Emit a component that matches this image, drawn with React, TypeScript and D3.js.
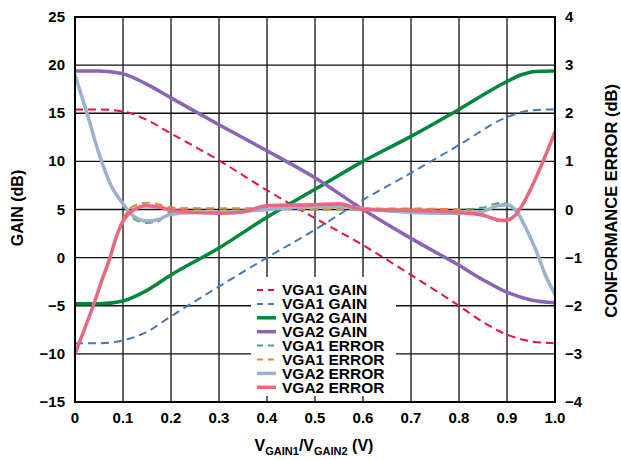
import React from "react";
import * as d3 from "d3";

type Pt = [number, number];

// VGA1 GAIN (red dashed) — left axis, dB
const vga1GainRed: Pt[] = [
  [0, 15.4], [0.05, 15.4], [0.1, 15.2], [0.15, 14.3], [0.2, 12.9], [0.3, 10.1],
  [0.4, 7.0], [0.5, 4.1], [0.6, 1.3], [0.7, -1.8], [0.8, -5.0], [0.85, -6.7],
  [0.9, -8.0], [0.95, -8.7], [1.0, -8.9],
];
// VGA1 GAIN (blue dashed) — left axis
const vga1GainBlue: Pt[] = [
  [0, -8.9], [0.05, -8.9], [0.1, -8.6], [0.15, -7.7], [0.2, -6.1], [0.3, -3.0],
  [0.4, 0.0], [0.5, 2.9], [0.6, 6.0], [0.7, 8.8], [0.8, 11.7], [0.9, 14.6],
  [0.95, 15.3], [1.0, 15.4],
];
// VGA2 GAIN (green) — left axis
const vga2GainGreen: Pt[] = [
  [0, -4.8], [0.05, -4.8], [0.1, -4.5], [0.15, -3.4], [0.2, -1.8], [0.3, 1.0],
  [0.4, 4.2], [0.5, 7.1], [0.6, 10.0], [0.7, 12.6], [0.8, 15.4], [0.9, 18.3],
  [0.93, 19.0], [0.96, 19.35], [1.0, 19.4],
];
// VGA2 GAIN (purple) — left axis
const vga2GainPurple: Pt[] = [
  [0, 19.4], [0.05, 19.4], [0.1, 19.1], [0.15, 18.0], [0.2, 16.6], [0.3, 13.8],
  [0.4, 11.1], [0.5, 8.3], [0.6, 5.0], [0.7, 2.0], [0.8, -0.8], [0.85, -2.3],
  [0.9, -3.6], [0.95, -4.4], [1.0, -4.7],
];
// VGA1 ERROR (green dashed) — right axis, dB
const vga1ErrGreen: Pt[] = [
  [0, 2.8], [0.025, 2.0], [0.05, 1.16], [0.075, 0.5], [0.1, 0.1], [0.12, -0.18],
  [0.15, -0.28], [0.17, -0.26], [0.2, -0.04], [0.25, 0.02], [0.3, 0.02], [0.4, 0.02],
  [0.5, 0.0], [0.6, 0.0], [0.7, 0.0], [0.8, 0.0], [0.85, 0.04], [0.875, 0.12],
  [0.89, 0.14], [0.91, 0.06], [0.92, -0.06], [0.94, -0.42], [0.96, -0.86],
  [0.98, -1.38], [1.0, -1.8],
];
// VGA1 ERROR (orange dashed) — right axis
const vga1ErrOrange: Pt[] = [
  [0, -3.0], [0.02, -2.48], [0.038, -2.0], [0.055, -1.5], [0.073, -1.0], [0.085, -0.6],
  [0.1, -0.2], [0.12, 0.06], [0.15, 0.14], [0.17, 0.12], [0.2, 0.04], [0.3, 0.02],
  [0.4, 0.02], [0.5, 0.0], [0.6, 0.02], [0.7, 0.02], [0.8, 0.0], [0.85, -0.1],
  [0.89, -0.25], [0.91, -0.2], [0.93, 0.04], [0.95, 0.42], [0.975, 0.98], [1.0, 1.6],
];
// VGA2 ERROR (grey-blue) — right axis
const vga2ErrGrey: Pt[] = [
  [0, 2.8], [0.025, 2.0], [0.05, 1.16], [0.075, 0.5], [0.1, 0.12], [0.12, -0.12],
  [0.15, -0.24], [0.17, -0.22], [0.2, -0.1], [0.25, -0.06], [0.3, -0.06], [0.4, 0.0],
  [0.5, 0.06], [0.55, 0.06], [0.6, 0.02], [0.7, -0.06], [0.8, -0.08], [0.85, -0.04],
  [0.88, 0.08], [0.9, 0.1], [0.92, -0.04], [0.94, -0.4], [0.96, -0.84], [0.98, -1.36],
  [1.0, -1.76],
];
// VGA2 ERROR (pink) — right axis
const vga2ErrPink: Pt[] = [
  [0, -3.0], [0.02, -2.48], [0.038, -2.0], [0.055, -1.5], [0.073, -1.0], [0.085, -0.6],
  [0.1, -0.24], [0.12, -0.02], [0.15, 0.08], [0.18, 0.04], [0.2, -0.02], [0.3, -0.08],
  [0.35, -0.05], [0.4, 0.08], [0.5, 0.1], [0.55, 0.12], [0.6, 0.0], [0.7, -0.02],
  [0.8, -0.06], [0.85, -0.12], [0.89, -0.23], [0.91, -0.18], [0.93, 0.06], [0.95, 0.44],
  [0.975, 1.0], [1.0, 1.62],
];

const xTicks = [0, 0.1, 0.2, 0.3, 0.4, 0.5, 0.6, 0.7, 0.8, 0.9, 1.0];
const xTickLabels = ["0", "0.1", "0.2", "0.3", "0.4", "0.5", "0.6", "0.7", "0.8", "0.9", "1.0"];
const leftTicks = [-15, -10, -5, 0, 5, 10, 15, 20, 25];
const rightTicks = [-4, -3, -2, -1, 0, 1, 2, 3, 4];

const legendLabels = [
  "VGA1 GAIN", "VGA1 GAIN", "VGA2 GAIN", "VGA2 GAIN",
  "VGA1 ERROR", "VGA1 ERROR", "VGA2 ERROR", "VGA2 ERROR",
];

const FONT = "'Liberation Sans', Arial, Helvetica, sans-serif";
const fmt = (v: number) => (v < 0 ? "\u2212" + Math.abs(v) : String(v));

export default function App() {
  const W = 621, H = 460;
  const x = d3.scaleLinear().domain([0, 1]).range([75, 555]);
  const yL = d3.scaleLinear().domain([-15, 25]).range([402, 17]);
  const yR = d3.scaleLinear().domain([-4, 4]).range([402, 17]);

  const lineL = d3.line<Pt>().x((d) => x(d[0])).y((d) => yL(d[1])).curve(d3.curveMonotoneX);
  const lineR = d3.line<Pt>().x((d) => x(d[0])).y((d) => yR(d[1])).curve(d3.curveMonotoneX);

  const series = [
    { data: vga1GainRed, axis: "L", color: "#E0133A", w: 2, dash: "8,5" },
    { data: vga1GainBlue, axis: "L", color: "#4877B3", w: 2, dash: "8,5" },
    { data: vga2GainGreen, axis: "L", color: "#00873E", w: 3.5, dash: "" },
    { data: vga2GainPurple, axis: "L", color: "#8A64B7", w: 3.5, dash: "" },
    { data: vga1ErrGreen, axis: "R", color: "#4FA772", w: 2, dash: "8,5" },
    { data: vga1ErrOrange, axis: "R", color: "#E48837", w: 2, dash: "8,5" },
    { data: vga2ErrGrey, axis: "R", color: "#9DB1CF", w: 3.5, dash: "" },
    { data: vga2ErrPink, axis: "R", color: "#E9677F", w: 3.5, dash: "" },
  ];

  const legX = 257, legY0 = 290, legStep = 13.9;

  return (
    <div style={{ position: "absolute", left: 0, top: 0 }}>
      <svg width={W} height={H} style={{ display: "block", background: "#fff" }} fontFamily={FONT}>
        <rect x={0} y={0} width={W} height={H} fill="#fff" />
        {/* grid */}
        {xTicks.slice(1, -1).map((t) => (
          <line key={"gx" + t} x1={x(t)} x2={x(t)} y1={yL(25)} y2={yL(-15)} stroke="#111" strokeWidth={1.3} />
        ))}
        {leftTicks.slice(1, -1).map((t) => (
          <line key={"gy" + t} x1={x(0)} x2={x(1)} y1={yL(t)} y2={yL(t)} stroke="#111" strokeWidth={1.3} />
        ))}
        {/* series */}
        {series.map((s, i) => (
          <path
            key={"s" + i}
            d={(s.axis === "L" ? lineL : lineR)(s.data) || ""}
            fill="none"
            stroke={s.color}
            strokeWidth={s.w}
            strokeDasharray={s.dash || undefined}
            strokeLinejoin="round"
          />
        ))}
        {/* frame */}
        <rect x={x(0)} y={yL(25)} width={x(1) - x(0)} height={yL(-15) - yL(25)} fill="none" stroke="#000" strokeWidth={2} />
        {/* legend */}
        <rect x={251} y={277} width={145} height={119} fill="#fff" />
        {series.map((s, i) => (
          <g key={"lg" + i}>
            <line
              x1={legX}
              x2={legX + 19}
              y1={legY0 + i * legStep}
              y2={legY0 + i * legStep}
              stroke={s.color}
              strokeWidth={s.w === 2 ? 2 : 3.5}
              strokeDasharray={s.dash ? "6,5" : undefined}
            />
            <text x={legX + 25} y={legY0 + i * legStep + 5.3} fontSize={15.5} fontWeight="bold" fill="#000">
              {legendLabels[i]}
            </text>
          </g>
        ))}
        {/* left ticks */}
        {leftTicks.map((t) => (
          <text key={"lt" + t} x={65} y={yL(t) + 5} textAnchor="end" fontSize={15} fontWeight="bold">
            {fmt(t)}
          </text>
        ))}
        {/* right ticks */}
        {rightTicks.map((t) => (
          <text key={"rt" + t} x={565} y={yR(t) + 5} textAnchor="start" fontSize={15} fontWeight="bold">
            {fmt(t)}
          </text>
        ))}
        {/* x ticks */}
        {xTicks.map((t, i) => (
          <text key={"xt" + t} x={x(t)} y={423} textAnchor="middle" fontSize={15} fontWeight="bold">
            {xTickLabels[i]}
          </text>
        ))}
        {/* axis titles */}
        <text transform="translate(23,208) rotate(-90)" textAnchor="middle" fontSize={16} fontWeight="bold">
          GAIN (dB)
        </text>
        <text transform="translate(617,201) rotate(-90)" textAnchor="middle" fontSize={16.5} fontWeight="bold">
          CONFORMANCE ERROR (dB)
        </text>
        <text x={314} y={451} textAnchor="middle" fontSize={16} fontWeight="bold">
          V<tspan fontSize={11} dy={4}>GAIN1</tspan>
          <tspan dy={-4}>/V</tspan>
          <tspan fontSize={11} dy={4}>GAIN2</tspan>
          <tspan dy={-4}> (V)</tspan>
        </text>
      </svg>
    </div>
  );
}
